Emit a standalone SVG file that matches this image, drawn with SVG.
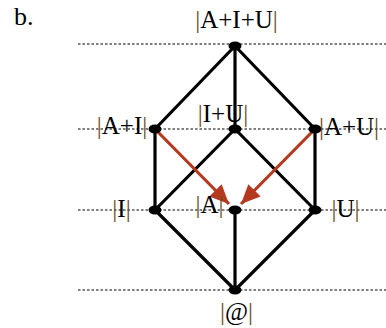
<svg xmlns="http://www.w3.org/2000/svg" width="386" height="328" viewBox="0 0 386 328">
<defs>
<style>
.t{font-family:"Liberation Serif","Times New Roman",serif;font-size:25px;fill:#000;text-anchor:middle}
.b{fill:#6e4a22}
.dot{stroke:#000;stroke-width:1.2;stroke-dasharray:2.5,2}
.e{stroke:#000;stroke-width:3.2;fill:none}
.r{stroke:#b5391f;stroke-width:3.2;fill:none}
.n{fill:#000}
</style>
<marker id="ah" markerWidth="7" markerHeight="7" refX="6" refY="3.5" orient="auto" markerUnits="strokeWidth">
<path d="M0,0.8 L6,3.5 L0,6.2 Z" fill="#b5391f"/>
</marker>
</defs>
<rect width="386" height="328" fill="#fff"/>
<text x="14" y="25" style="font-family:'Liberation Serif','Times New Roman',serif;font-size:26px;fill:#000">b.</text>
<g id="guides">
<line x1="78" y1="44" x2="386" y2="44" class="dot"/>
<line x1="78" y1="129" x2="386" y2="129" class="dot"/>
<line x1="78" y1="210" x2="386" y2="210" class="dot"/>
<line x1="78" y1="290" x2="386" y2="290" class="dot"/>
</g>
<g id="connectors">
<line x1="235" y1="46" x2="155" y2="129" class="e"/>
<line x1="235" y1="46" x2="235" y2="129" class="e"/>
<line x1="235" y1="46" x2="315" y2="129" class="e"/>
<line x1="155" y1="129" x2="155" y2="210" class="e"/>
<line x1="315" y1="129" x2="315" y2="210" class="e"/>
<line x1="235" y1="129" x2="155" y2="210" class="e"/>
<line x1="235" y1="129" x2="315" y2="210" class="e"/>
<line x1="155" y1="210" x2="235" y2="290" class="e"/>
<line x1="235" y1="210" x2="235" y2="290" class="e"/>
<line x1="315" y1="210" x2="235" y2="290" class="e"/>
<line x1="155" y1="129" x2="229" y2="204" class="r" marker-end="url(#ah)"/>
<line x1="315" y1="129" x2="241" y2="204" class="r" marker-end="url(#ah)"/>
</g>
<g id="n-AIU"><ellipse cx="235" cy="46" rx="6.5" ry="4.5" class="n"/><text x="236.5" y="28" class="t"><tspan class="b">|</tspan>A+I+U<tspan class="b">|</tspan></text></g>
<g id="n-AI"><ellipse cx="155" cy="129" rx="6.5" ry="4.5" class="n"/><text x="122" y="134" class="t"><tspan class="b">|</tspan>A+I<tspan class="b">|</tspan></text></g>
<g id="n-IU"><ellipse cx="235" cy="129" rx="6.5" ry="4.5" class="n"/><text x="223" y="122" class="t"><tspan class="b">|</tspan>I+U<tspan class="b">|</tspan></text></g>
<g id="n-AU"><ellipse cx="315" cy="129" rx="6.5" ry="4.5" class="n"/><text x="349" y="135" class="t"><tspan class="b">|</tspan>A+U<tspan class="b">|</tspan></text></g>
<g id="n-I"><ellipse cx="155" cy="210" rx="6.5" ry="4.5" class="n"/><text x="121.5" y="217" class="t"><tspan class="b">|</tspan>I<tspan class="b">|</tspan></text></g>
<g id="n-A"><ellipse cx="235" cy="210" rx="6.5" ry="4.5" class="n"/><text x="209.5" y="213" class="t"><tspan class="b">|</tspan>A<tspan class="b">|</tspan></text></g>
<g id="n-U"><ellipse cx="315" cy="210" rx="6.5" ry="4.5" class="n"/><text x="345.5" y="217" class="t"><tspan class="b">|</tspan>U<tspan class="b">|</tspan></text></g>
<g id="n-at"><ellipse cx="235" cy="290" rx="6.5" ry="4.5" class="n"/><text x="236.5" y="320" class="t"><tspan class="b">|</tspan>@<tspan class="b">|</tspan></text></g>
</svg>
